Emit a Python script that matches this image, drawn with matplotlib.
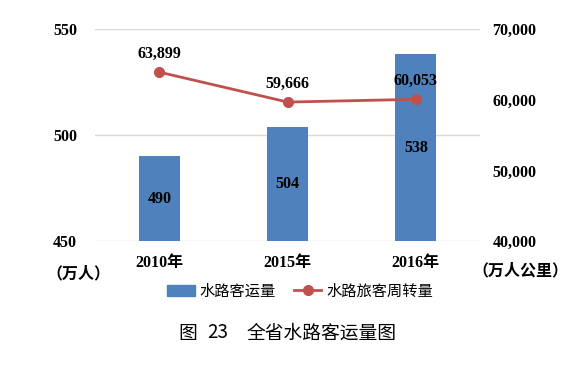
import matplotlib
matplotlib.use("Agg")
import matplotlib.pyplot as plt
from matplotlib.lines import Line2D
from matplotlib.patches import Patch

categories = ["2010年", "2015年", "2016年"]
passengers = [490, 504, 538]
turnover = [63899, 59666, 60053]
left_ticks = [450, 500, 550]
right_ticks = [40000, 50000, 60000, 70000]

SERIF = ["Liberation Serif", "Noto Sans CJK SC"]
CJK = ["Noto Sans CJK SC", "DejaVu Sans"]
BAR_C = "#4F81BD"
LINE_C = "#C0504D"
FS = 11.5

fig = plt.figure(figsize=(5.84, 3.67), dpi=100)
ax = fig.add_axes([0.163, 0.343, 0.659, 0.578])
x = list(range(len(categories)))
ax.bar(x, [p - 450 for p in passengers], bottom=450, width=0.32, color=BAR_C, zorder=2)
ax.set_ylim(450, 550)
ax.set_xlim(-0.5, 2.5)
ax.set_yticks(left_ticks)
ax.set_yticklabels([str(t) for t in left_ticks], fontfamily=SERIF, fontweight="bold", fontsize=FS)
ax.set_xticks(x)
ax.set_xticklabels(categories, fontfamily=SERIF, fontweight="bold", fontsize=FS)
ax.tick_params(axis="both", length=0)
ax.tick_params(axis="y", pad=13)
ax.tick_params(axis="x", pad=10)
for s in ax.spines.values():
    s.set_visible(False)
ax.grid(axis="y", color="#D9D9D9", linewidth=1, zorder=0)
ax.set_axisbelow(True)
for xi, p in zip(x, passengers):
    ax.text(xi, (450 + p) / 2, str(p), ha="center", va="center",
            fontfamily=SERIF, fontweight="bold", fontsize=FS, zorder=5)

ax2 = ax.twinx()
ax2.set_ylim(40000, 70000)
ax2.plot(x, turnover, color=LINE_C, linewidth=2, marker="o", markersize=7, zorder=4)
ax2.set_yticks(right_ticks)
ax2.set_yticklabels([f"{t:,}" for t in right_ticks], fontfamily=SERIF, fontweight="bold", fontsize=FS)
ax2.tick_params(axis="y", length=0, pad=9)
for s in ax2.spines.values():
    s.set_visible(False)
for xi, t in zip(x, turnover):
    ax2.text(xi, t + 1500, f"{t:,}", ha="center", va="bottom",
             fontfamily=SERIF, fontweight="bold", fontsize=FS, zorder=6)

fig.text(78 / 584, 1 - 273 / 367, "（万人）", ha="center", va="center",
         fontfamily=CJK, fontweight="bold", fontsize=11.5)
fig.text(520 / 584, 1 - 270 / 367, "（万人公里）", ha="center", va="center",
         fontfamily=CJK, fontweight="bold", fontsize=11.5)

handles = [Patch(color=BAR_C), Line2D([0], [0], color=LINE_C, linewidth=2, marker="o", markersize=7)]
fig.legend(handles, ["水路客运量", "水路旅客周转量"], loc="center",
           bbox_to_anchor=(300 / 584, 1 - 291 / 367), ncol=2, frameon=False,
           prop={"family": CJK, "size": 11, "weight": "medium"}, handlelength=1.8,
           columnspacing=1.2, handletextpad=0.3)

cy = 1 - 333 / 367
fig.text(178 / 584, cy, "图", ha="left", va="center", fontfamily=CJK, fontsize=13.5)
fig.text(207 / 584, cy, "23", ha="left", va="center", fontfamily=CJK, fontsize=13.5)
fig.text(247 / 584, cy, "全省水路客运量图", ha="left", va="center", fontfamily=CJK, fontsize=13.5)

fig.savefig("out.png", dpi=100)
